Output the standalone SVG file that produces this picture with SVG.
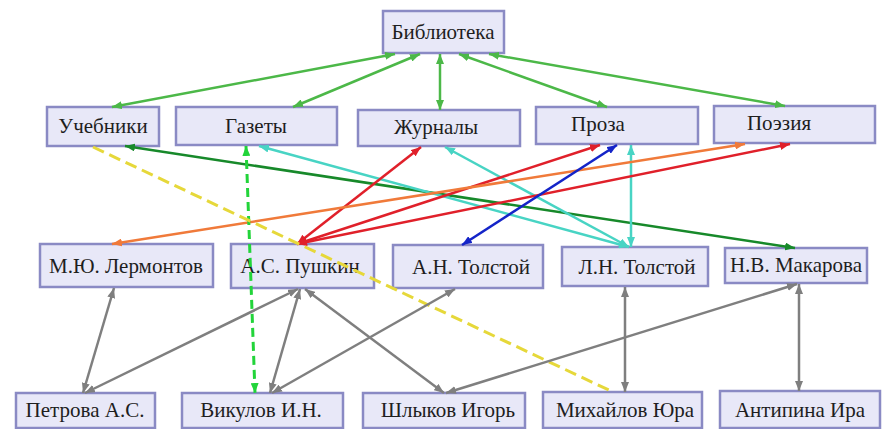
<svg xmlns="http://www.w3.org/2000/svg" width="884" height="429" viewBox="0 0 884 429">
<style>
.box{fill:#e8e8f8;stroke:#8a8ac4;stroke-width:2.5}
.t{font-family:"Liberation Serif","DejaVu Serif",serif;font-size:21px;fill:#1e1e1e;text-anchor:middle}
.c{fill:none;stroke-width:2.5}
.g{stroke:#4cb848;marker-start:url(#mg);marker-end:url(#mg)}
.dg{stroke:#17892a;marker-start:url(#mdg);marker-end:url(#mdg)}
.cy{stroke:#48d4c4;marker-start:url(#mcy);marker-end:url(#mcy)}
.r{stroke:#e0202a;marker-start:url(#mr);marker-end:url(#mr)}
.o{stroke:#f07a3a;marker-start:url(#mo);marker-end:url(#mo)}
.b{stroke:#1424c8;marker-start:url(#mb);marker-end:url(#mb)}
.l{stroke:#22d43a;stroke-width:3;stroke-dasharray:9 5;marker-start:url(#ml);marker-end:url(#ml)}
.y{stroke:#e6d83a;stroke-width:3;stroke-dasharray:12 6}
.gr{stroke:#7f7f7f;marker-start:url(#mgr);marker-end:url(#mgr)}
</style>
<defs>
<marker id="mg" markerUnits="userSpaceOnUse" markerWidth="10" markerHeight="8" refX="10" refY="4" orient="auto-start-reverse"><path d="M0,0L10,4L0,8z" fill="#4cb848"/></marker>
<marker id="mdg" markerUnits="userSpaceOnUse" markerWidth="10" markerHeight="8" refX="10" refY="4" orient="auto-start-reverse"><path d="M0,0L10,4L0,8z" fill="#17892a"/></marker>
<marker id="mcy" markerUnits="userSpaceOnUse" markerWidth="10" markerHeight="8" refX="10" refY="4" orient="auto-start-reverse"><path d="M0,0L10,4L0,8z" fill="#48d4c4"/></marker>
<marker id="mr" markerUnits="userSpaceOnUse" markerWidth="10" markerHeight="8" refX="10" refY="4" orient="auto-start-reverse"><path d="M0,0L10,4L0,8z" fill="#e0202a"/></marker>
<marker id="mo" markerUnits="userSpaceOnUse" markerWidth="10" markerHeight="8" refX="10" refY="4" orient="auto-start-reverse"><path d="M0,0L10,4L0,8z" fill="#f07a3a"/></marker>
<marker id="mb" markerUnits="userSpaceOnUse" markerWidth="10" markerHeight="8" refX="10" refY="4" orient="auto-start-reverse"><path d="M0,0L10,4L0,8z" fill="#1424c8"/></marker>
<marker id="ml" markerUnits="userSpaceOnUse" markerWidth="10" markerHeight="8" refX="10" refY="4" orient="auto-start-reverse"><path d="M0,0L10,4L0,8z" fill="#22d43a"/></marker>
<marker id="mgr" markerUnits="userSpaceOnUse" markerWidth="10" markerHeight="8" refX="10" refY="4" orient="auto-start-reverse"><path d="M0,0L10,4L0,8z" fill="#7f7f7f"/></marker>
</defs>
<rect width="884" height="429" fill="#ffffff"/>

<g id="n-biblioteka"><rect class="box" x="383" y="11" width="121" height="42"/><text class="t" x="443" y="39">Библиотека</text></g>
<g id="n-uchebniki"><rect class="box" x="47" y="107" width="112" height="39"/><text class="t" x="103" y="133">Учебники</text></g>
<g id="n-gazety"><rect class="box" x="176" y="107" width="161" height="38"/><text class="t" x="256" y="133">Газеты</text></g>
<g id="n-zhurnaly"><rect class="box" x="358" y="110" width="162" height="36"/><text class="t" x="436" y="134">Журналы</text></g>
<g id="n-proza"><rect class="box" x="536" y="107" width="162" height="37"/><text class="t" x="598" y="131">Проза</text></g>
<g id="n-poeziya"><rect class="box" x="714" y="106" width="161" height="37"/><text class="t" x="779" y="130">Поэзия</text></g>

<g id="n-lermontov"><rect class="box" x="40" y="244" width="173" height="43"/><text class="t" x="126" y="273">М.Ю. Лермонтов</text></g>
<g id="n-pushkin"><rect class="box" x="231" y="244" width="143" height="44"/><text class="t" x="300" y="273">А.С. Пушкин</text></g>
<g id="n-an-tolstoy"><rect class="box" x="393" y="245" width="150" height="43"/><text class="t" x="471" y="274">А.Н. Толстой</text></g>
<g id="n-ln-tolstoy"><rect class="box" x="562" y="247" width="146" height="39"/><text class="t" x="637" y="274">Л.Н. Толстой</text></g>
<g id="n-makarova"><rect class="box" x="725" y="248" width="142" height="35"/><text class="t" x="796" y="272">Н.В. Макарова</text></g>

<g id="n-petrova"><rect class="box" x="16" y="393" width="139" height="35"/><text class="t" x="85" y="417">Петрова А.С.</text></g>
<g id="n-vikulov"><rect class="box" x="182" y="393" width="161" height="35"/><text class="t" x="261" y="417">Викулов И.Н.</text></g>
<g id="n-shlykov"><rect class="box" x="363" y="393" width="162" height="35"/><text class="t" x="448" y="417">Шлыков Игорь</text></g>
<g id="n-mikhaylov"><rect class="box" x="543" y="392" width="159" height="36"/><text class="t" x="625" y="417">Михайлов Юра</text></g>
<g id="n-antipina"><rect class="box" x="720" y="391" width="160" height="37"/><text class="t" x="800" y="417">Антипина Ира</text></g>

<g id="connectors">
<line class="c g" x1="395" y1="54" x2="112" y2="107"/>
<line class="c g" x1="420" y1="54" x2="293" y2="107"/>
<line class="c g" x1="440" y1="54" x2="440" y2="110"/>
<line class="c g" x1="459" y1="54" x2="607" y2="107"/>
<line class="c g" x1="489" y1="54" x2="785" y2="106"/>

<line class="c dg" x1="125" y1="146" x2="795" y2="248"/>
<line class="c cy" x1="259" y1="146" x2="629" y2="247"/>
<line class="c cy" x1="445" y1="147" x2="629" y2="247"/>
<line class="c cy" x1="631" y1="145" x2="631" y2="247"/>
<line class="c r" x1="421" y1="147" x2="297" y2="244"/>
<line class="c r" x1="600" y1="145" x2="297" y2="244"/>
<line class="c r" x1="790" y1="144" x2="297" y2="244"/>
<line class="c o" x1="745" y1="144" x2="112" y2="244"/>
<line class="c b" x1="617" y1="145" x2="462" y2="245"/>
<line class="c l" x1="246" y1="146" x2="255" y2="393"/>
<line class="c y" x1="93" y1="147" x2="613" y2="392"/>

<line class="c gr" x1="114" y1="288" x2="83" y2="393"/>
<line class="c gr" x1="298" y1="289" x2="85" y2="393"/>
<line class="c gr" x1="300" y1="289" x2="270" y2="393"/>
<line class="c gr" x1="305" y1="289" x2="444" y2="393"/>
<line class="c gr" x1="455" y1="289" x2="272" y2="393"/>
<line class="c gr" x1="797" y1="284" x2="446" y2="393"/>
<line class="c gr" x1="625" y1="287" x2="625" y2="392"/>
<line class="c gr" x1="799" y1="284" x2="799" y2="391"/>
</g>
</svg>
